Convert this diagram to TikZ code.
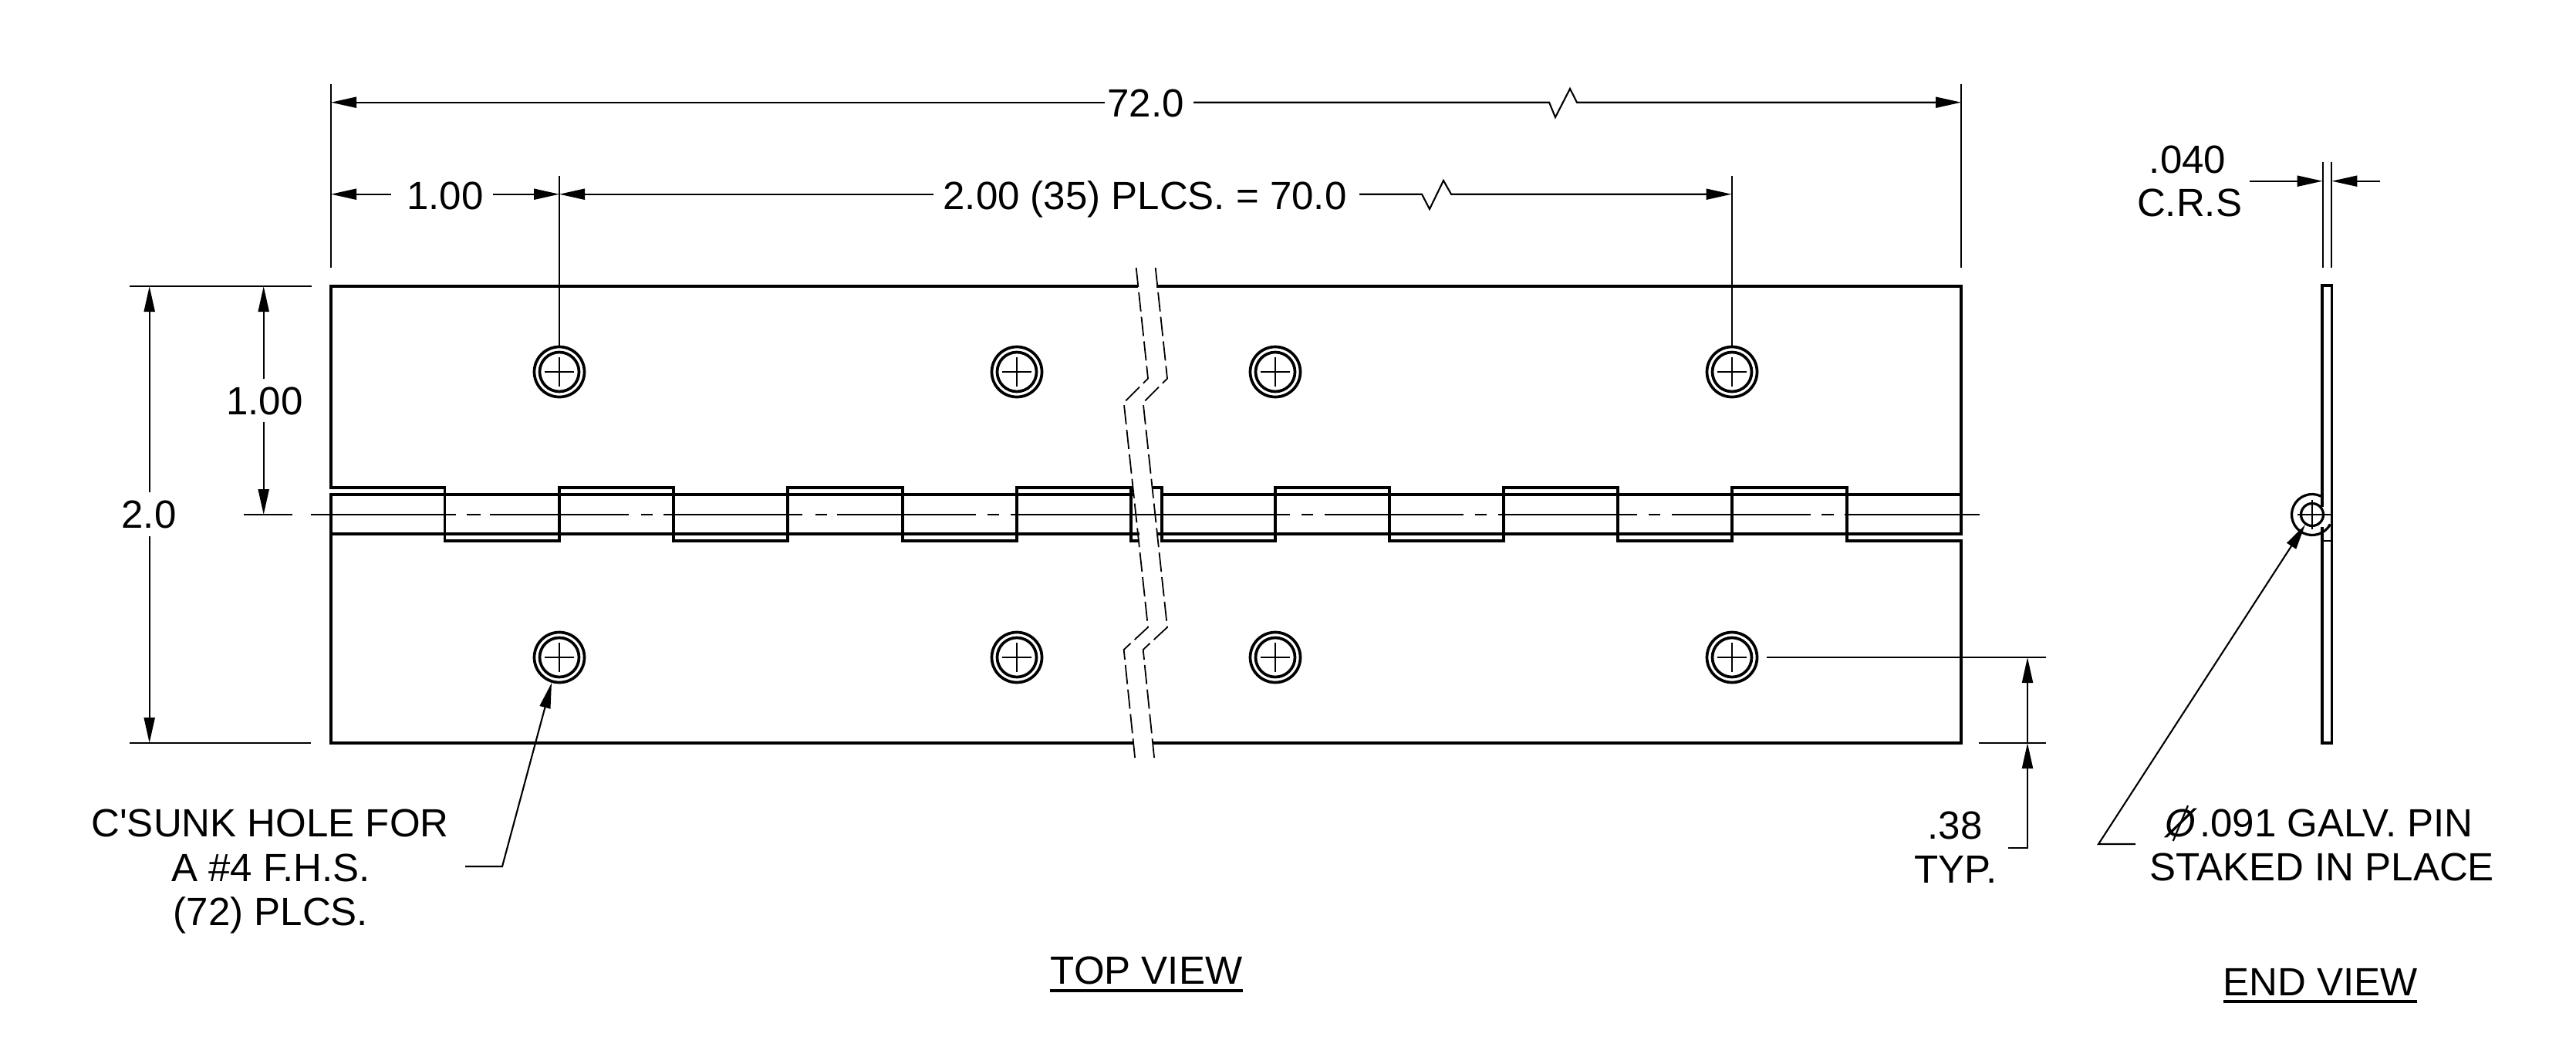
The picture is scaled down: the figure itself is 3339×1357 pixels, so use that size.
\documentclass[tikz,border=0pt]{standalone}
\usepackage{fontspec}
\setmainfont{Liberation Sans}
\newfontfamily\plainfont{Liberation Sans}
\usetikzlibrary{arrows.meta}
\tikzset{
  x=1pt,y=-1pt,
  thickline/.style={line width=3.8pt,line join=miter,line cap=butt},
  thinline/.style={line width=2.1pt,line join=miter},
  cutline/.style={line width=1.8pt,dash pattern=on 25pt off 7pt},
  dimarrow/.style={thinline,-{Triangle[length=33pt,width=14pt,sep=0pt]}},
  lbl/.style={inner sep=0pt,anchor=base,font=\fontsize{51}{51}\selectfont},
}
\begin{document}
\begin{tikzpicture}
\useasboundingbox (0,0) rectangle (3339,1357);
% outlines
\draw[thickline] (1475,371) -- (429,371) -- (429,632) -- (576.5,632) -- (576.5,701) -- (725,701) -- (725,632) -- (873,632) -- (873,701) -- (1021,701) -- (1021,632) -- (1170,632) -- (1170,701) -- (1318,701) -- (1318,632) -- (1466,632) -- (1466,701) -- (1477,701);
\draw[thickline] (1469,963) -- (429,963) -- (429,641) -- (1469,641);
\draw[thickline] (429,692) -- (1477,692);
\draw[thickline] (1493,632) -- (1506,632) -- (1506,701) -- (1653,701) -- (1653,632) -- (1801,632) -- (1801,701) -- (1949,701) -- (1949,632) -- (2097,632) -- (2097,701) -- (2245,701) -- (2245,632) -- (2394,632) -- (2394,701) -- (2542,701) -- (2542,963) -- (1494,963);
\draw[thickline] (1499,371) -- (2542,371) -- (2542,692) -- (1499,692);
\draw[thickline] (1506,641) -- (2542,641);
% centre line
\foreach \a/\b in {316/379,403/591,605/623,635/815,831/846,860/1040,1057/1072,1085/1265,1280/1295,1310/1672,1687/1702,1717/1897,1912/1927,1942/2122,2137/2152,2167/2347,2361/2377,2391/2566}
  \draw[thinline] (\a,667) -- (\b,667);
% break lines
\draw[cutline] (1472.7,347) -- (1488,490.5) -- (1456.7,522) -- (1488,813) -- (1456.7,842) -- (1471.7,988);
\draw[cutline] (1497.7,347) -- (1513,490.5) -- (1481.7,522) -- (1513,813) -- (1481.7,842) -- (1496.7,988);
% holes
\foreach \hx in {725,1318,1653,2245} \foreach \hy in {482,852} {
  \draw[line width=3.7pt] (\hx,\hy) circle[radius=32.5];
  \draw[line width=3.7pt] (\hx,\hy) circle[radius=25.5];
  \draw[thinline] (\hx-19,\hy) -- (\hx+19,\hy) (\hx,\hy-19) -- (\hx,\hy+19);
}
% extension lines
\draw[thinline] (429,109) -- (429,347);
\draw[thinline] (2542,109) -- (2542,347);
\draw[thinline] (725,228) -- (725,449);
\draw[thinline] (2245,228) -- (2245,449);
\draw[thinline] (168,371) -- (404,371);
\draw[thinline] (168,963) -- (403,963);
\draw[thinline] (2290,852) -- (2652,852);
\draw[thinline] (2565,963) -- (2652,963);
\draw[thinline] (3010.6,210) -- (3010.6,347);
\draw[thinline] (3022.4,210) -- (3022.4,347);
% 72.0
\node[lbl] (n72) at (1485,151) {72.0};
\draw[dimarrow] (1432,132.7) -- (429,132.7);
\draw[dimarrow] (1547,132.7) -- (2008,132.7) -- (2016,152) -- (2035,115) -- (2044,132.7) -- (2542,132.7);
% 1.00 top
\node[lbl] (n100a) at (577,271) {1.00};
\draw[dimarrow] (507,251.7) -- (429,251.7);
\draw[dimarrow] (639,251.7) -- (725,251.7);
% 2.00
\node[lbl] (n200) at (1484,271) {2.00 (35) PLCS. = 70.0};
\draw[dimarrow] (1210,251.7) -- (725,251.7);
\draw[dimarrow] (1762,251.7) -- (1843,251.7) -- (1853,271) -- (1871,234) -- (1881,251.7) -- (2244.5,251.7);
% 2.0
\node[lbl] (n20) at (193,684) {2.0};
\draw[dimarrow] (193.7,638) -- (193.7,371);
\draw[dimarrow] (193.7,695) -- (193.7,963);
% 1.00 left
\node[lbl] (n100b) at (343,537) {1.00};
\draw[dimarrow] (341.7,491) -- (341.7,371);
\draw[dimarrow] (341.7,547) -- (341.7,667);
% .38
\node[lbl] (n38) at (2534,1087) {.38};
\node[lbl] (ntyp) at (2535,1144) {TYP.};
\draw[dimarrow] (2628,900) -- (2628,852);
\draw[dimarrow] (2603,1099) -- (2628,1099) -- (2628,963);
\draw[thinline] (2628,900) -- (2628,963);
% .040
\node[lbl] (n040) at (2835.5,224) {.040};
\node[lbl] (ncrs) at (2838,280) {C.R.S};
\draw[dimarrow] (2915.5,234.7) -- (3010.6,234.7);
\draw[dimarrow] (3084.5,234.7) -- (3022.4,234.7);
% end view plate
\draw[thickline] (3010,657) -- (3010,370) -- (3022.5,370) -- (3022.5,963) -- (3010,963) -- (3010,683);
\draw[thinline,line width=2.6pt] (3010,667) -- (3022.5,667) (3010,701) -- (3022.5,701);
\draw[line width=3.2pt] (3008.2,643) arc[start angle=-65,end angle=-332,radius=26.5];
\draw[line width=3.2pt] (2997,667) circle[radius=14.5];
\draw[thinline] (2978,667) -- (3016,667) (2997,648) -- (2997,686);
% pin leader
\coordinate (pinTip) at (2988,680);
\draw[dimarrow] (2768,1094) -- (2720,1094) -- (pinTip);
% hole leader
\coordinate (holeTip) at (715,885);
\draw[dimarrow] (603,1123) -- (651,1123) -- (holeTip);
% notes
\node[lbl] (nhole1) at (350,1084) {C{\plainfont '}SUNK HOLE FOR};
\node[lbl] (nhole2) at (351,1142) {A \#4 F.H.S.};
\node[lbl] (nhole3) at (351,1199) {(72) PLCS.};
\node[lbl] (nphi) at (2826.7,1084) {\itshape Ø};
\draw[line width=2.2pt] (2816.7,1090) -- (2836,1044);
\node[lbl,anchor=base west] (npin1) at (2851,1084) {.091 GALV. PIN};
\node[lbl] (npin2) at (3009.5,1141.6) {STAKED IN PLACE};
\node[lbl] (ntop) at (1486,1275) {TOP VIEW};
\draw[line width=3.2pt] (1361,1284) -- (1611,1284);
\node[lbl] (nend) at (3008,1290) {END VIEW};
\draw[line width=3.2pt] (2882,1298) -- (3133,1298);
\end{tikzpicture}
\end{document}
